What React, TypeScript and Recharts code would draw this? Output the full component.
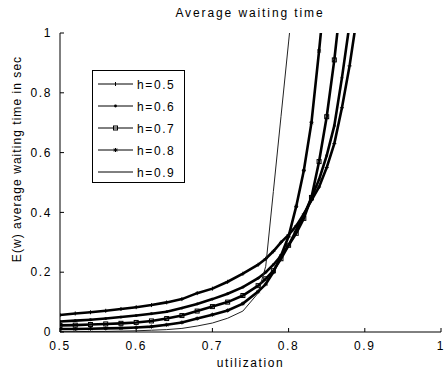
import React from 'react';
import { LineChart, Line, XAxis, YAxis, Legend } from 'recharts';

const utilization = [0.50, 0.52, 0.54, 0.56, 0.58, 0.60, 0.62, 0.64, 0.66, 0.68, 0.70, 0.72, 0.74, 0.76, 0.77, 0.78, 0.79, 0.80, 0.81, 0.82, 0.83, 0.84, 0.85, 0.86, 0.87, 0.88, 0.89];

const h05 = [0.057, 0.062, 0.066, 0.071, 0.077, 0.083, 0.090, 0.099, 0.110, 0.130, 0.145, 0.168, 0.195, 0.225, 0.245, 0.270, 0.300, 0.325, 0.355, 0.395, 0.440, 0.485, 0.550, 0.630, 0.750, 0.890, 1.060];
const h06 = [0.035, 0.038, 0.041, 0.045, 0.050, 0.055, 0.061, 0.068, 0.080, 0.094, 0.110, 0.128, 0.150, 0.180, 0.200, 0.225, 0.255, 0.290, 0.340, 0.390, 0.450, 0.510, 0.590, 0.690, 0.850, 1.030, null];
const h07 = [0.022, 0.023, 0.025, 0.027, 0.029, 0.032, 0.037, 0.045, 0.055, 0.070, 0.085, 0.100, 0.122, 0.155, 0.178, 0.205, 0.245, 0.290, 0.330, 0.380, 0.450, 0.570, 0.720, 0.910, 1.140, null, null];
const h08 = [0.010, 0.010, 0.011, 0.012, 0.013, 0.015, 0.018, 0.024, 0.032, 0.045, 0.058, 0.072, 0.095, 0.135, 0.160, 0.200, 0.255, 0.320, 0.420, 0.540, 0.700, 0.940, 1.200, null, null, null, null];
const h09 = [0.001, 0.001, 0.002, 0.002, 0.003, 0.004, 0.006, 0.008, 0.012, 0.020, 0.030, 0.046, 0.070, 0.130, 0.220, 0.470, 0.720, 0.970, 1.220, null, null, null, null, null, null, null, null];

const seriesNames = ['h=0.5', 'h=0.6', 'h=0.7', 'h=0.8', 'h=0.9'];
const seriesValues = [h05, h06, h07, h08, h09];
const seriesMarkers = ['plus', 'dot', 'square', 'star', 'none'];

const xTicks = [0.5, 0.6, 0.7, 0.8, 0.9, 1];
const yTicks = [0, 0.2, 0.4, 0.6, 0.8, 1];

const titleText = 'Average waiting time';
const xLabelText = 'utilization';
const yLabelText = 'E(w) average waiting time in sec';

const FONT = '"Liberation Sans", Arial, Helvetica, sans-serif';

const data = utilization.map((u, i) => {
  const row: any = { u };
  seriesValues.forEach((vals, k) => {
    row['s' + k] = vals[i];
  });
  return row;
});

function drawMarker(kind: string, cx: number, cy: number, key?: any) {
  if (kind === 'plus') {
    return (
      <g key={key}>
        <line x1={cx - 2} y1={cy} x2={cx + 2} y2={cy} stroke="#000" strokeWidth={1} />
        <line x1={cx} y1={cy - 2} x2={cx} y2={cy + 2} stroke="#000" strokeWidth={1} />
      </g>
    );
  }
  if (kind === 'vtick') {
    return <line key={key} x1={cx} y1={cy - 2} x2={cx} y2={cy + 2} stroke="#000" strokeWidth={1} />;
  }
  if (kind === 'dot') {
    return <circle key={key} cx={cx} cy={cy} r={1.4} fill="#000" />;
  }
  if (kind === 'square') {
    return <rect key={key} x={cx - 2} y={cy - 2} width={4} height={4} fill="none" stroke="#000" strokeWidth={1} />;
  }
  if (kind === 'star') {
    return (
      <g key={key}>
        <line x1={cx - 2} y1={cy} x2={cx + 2} y2={cy} stroke="#000" strokeWidth={1} />
        <line x1={cx} y1={cy - 2} x2={cx} y2={cy + 2} stroke="#000" strokeWidth={1} />
        <line x1={cx - 1.5} y1={cy - 1.5} x2={cx + 1.5} y2={cy + 1.5} stroke="#000" strokeWidth={1} />
        <line x1={cx - 1.5} y1={cy + 1.5} x2={cx + 1.5} y2={cy - 1.5} stroke="#000" strokeWidth={1} />
      </g>
    );
  }
  return <g key={key} />;
}

const makeDot = (kind: string) => (props: any) => {
  const { cx, cy, index, value } = props;
  if (cx == null || cy == null || value == null || kind === 'none') return <g key={'d' + index} />;
  return drawMarker(kind, cx, cy, 'd' + index);
};

const LegendBox = (props: any) => {
  const payload = props.payload || [];
  const rowH = 22;
  return (
    <div style={{ width: 93, height: 113, border: '1px solid #000', background: '#fff', boxSizing: 'border-box' }}>
      <svg width={91} height={111} style={{ display: 'block' }}>
        {payload.map((entry: any, i: number) => {
          const cy = 13 + i * rowH;
          const k = seriesNames.indexOf(entry.value);
          const kind = seriesMarkers[k] || 'none';
          return (
            <g key={i}>
              <line x1={5} y1={cy} x2={40} y2={cy} stroke="#000" strokeWidth={1} />
              {kind !== 'none' ? drawMarker(kind === 'plus' ? 'vtick' : kind, 22.5, cy) : null}
              <text x={44} y={cy + 4.5} fontSize={12} fill="#000" style={{ fontFamily: FONT, letterSpacing: '1.6px' }}>
                {entry.value}
              </text>
            </g>
          );
        })}
      </svg>
    </div>
  );
};

export default function App() {
  return (
    <div style={{ width: 444, height: 375, position: 'relative', background: '#fff', fontFamily: FONT, letterSpacing: '1.6px' }}>
      <style>{'body{margin:0;background:#fff;}'}</style>
      <LineChart width={444} height={375} data={data} margin={{ top: 33, right: 3, bottom: 0, left: 0 }}>
        <XAxis
          dataKey="u"
          type="number"
          domain={[0.5, 1]}
          ticks={xTicks}
          interval={0}
          allowDataOverflow
          height={43}
          tickSize={-4}
          tickMargin={13.5}
          axisLine={{ stroke: '#000' }}
          tickLine={{ stroke: '#000' }}
          tick={{ fontSize: 12, fill: '#000' }}
          label={{ value: xLabelText, position: 'insideBottom', offset: 8, fontSize: 12, fill: '#000' }}
        />
        <XAxis
          xAxisId="top"
          dataKey="u"
          orientation="top"
          type="number"
          domain={[0.5, 1]}
          ticks={xTicks}
          interval={0}
          height={0}
          tickSize={-4}
          tick={false}
          axisLine={{ stroke: '#000' }}
          tickLine={{ stroke: '#000' }}
        />
        <YAxis
          type="number"
          domain={[0, 1]}
          ticks={yTicks}
          interval={0}
          allowDataOverflow
          width={60}
          tickSize={-4}
          tickMargin={12}
          axisLine={{ stroke: '#000' }}
          tickLine={{ stroke: '#000' }}
          tick={{ fontSize: 12, fill: '#000' }}
          label={{
            content: () => (
              <g>
                <text x={21} y={159} transform="rotate(-90, 21, 159)" textAnchor="middle" fontSize={12} fill="#000" style={{ letterSpacing: '1.05px' }}>
                  {yLabelText}
                </text>
                <text x={250} y={17} textAnchor="middle" fontSize={12} fill="#000" style={{ letterSpacing: '1.9px' }}>
                  {titleText}
                </text>
              </g>
            ),
          }}
        />
        <YAxis
          yAxisId="right"
          orientation="right"
          type="number"
          domain={[0, 1]}
          ticks={yTicks}
          interval={0}
          width={0}
          tickSize={-4}
          tick={false}
          axisLine={{ stroke: '#000' }}
          tickLine={{ stroke: '#000' }}
        />
        <Legend
          layout="vertical"
          align="center"
          verticalAlign="middle"
          content={<LegendBox />}
          wrapperStyle={{ position: 'absolute', left: 92, top: 70, width: 93, height: 113 }}
        />
        {seriesNames.map((name, k) => (
          <Line
            key={name}
            name={name}
            dataKey={'s' + k}
            type="linear"
            stroke={k === 4 ? '#222' : '#000'}
            strokeWidth={k === 4 ? 1 : 2.6}
            dot={makeDot(seriesMarkers[k])}
            activeDot={false}
            connectNulls={false}
            isAnimationActive={false}
          />
        ))}
      </LineChart>
    </div>
  );
}
